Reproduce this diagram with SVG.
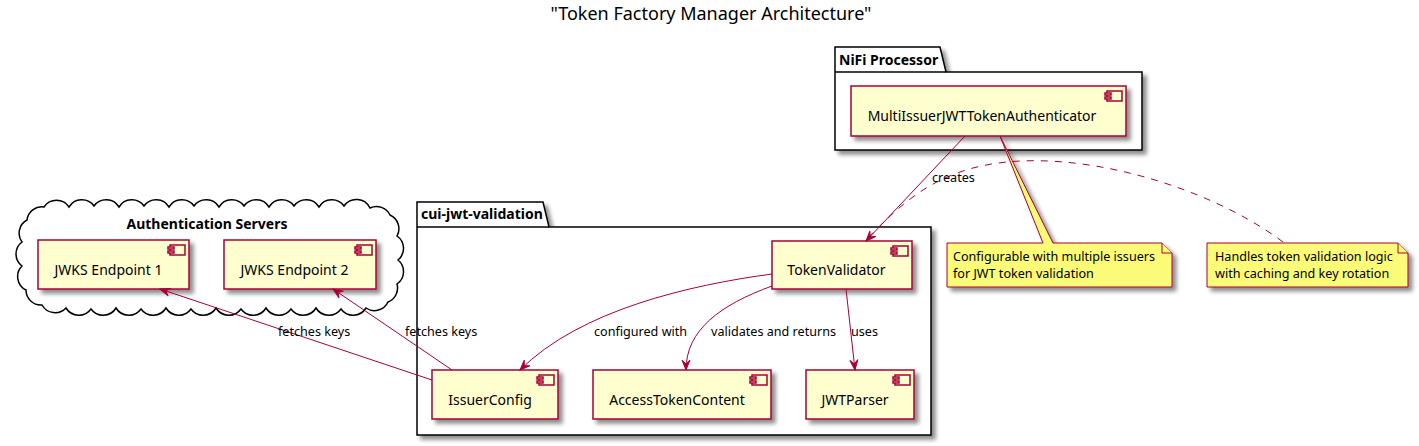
<svg xmlns="http://www.w3.org/2000/svg" width="1419" height="446" viewBox="0 0 1419 446">
<style>
text{font-family:"Noto Sans","Open Sans","DejaVu Sans",sans-serif;fill:#000}
.title{font-size:18px}
.pkgl{font-size:14px;font-weight:bold}
.cname{font-size:14px;text-anchor:middle}
.elab{font-size:12.6px}
.ntext{font-size:12.6px}
.pkg{fill:#fff;stroke:#000;stroke-width:1.5}
.comp{fill:#FEFECE;stroke:#A80036;stroke-width:1.5}
.icon{fill:#FEFECE;stroke:#A80036;stroke-width:1.5}
.note{fill:#FBFB77;stroke:#A80036;stroke-width:1}
.edge{fill:none;stroke:#A80036;stroke-width:1}
.dash{fill:none;stroke:#A80036;stroke-width:1;stroke-dasharray:7,7}
</style>
<defs>
<filter id="sh" x="-10%" y="-10%" width="130%" height="140%">
<feGaussianBlur in="SourceAlpha" stdDeviation="2" result="b"/>
<feOffset in="b" dx="4" dy="4" result="o"/>
<feComponentTransfer in="o" result="o2"><feFuncA type="linear" slope="0.45"/></feComponentTransfer>
<feMerge><feMergeNode in="o2"/><feMergeNode in="SourceGraphic"/></feMerge>
</filter>
<marker id="ah" viewBox="0 0 12 10" refX="11" refY="5" markerWidth="12" markerHeight="10" markerUnits="userSpaceOnUse" orient="auto">
<path d="M11,5 L1,1 L5,5 L1,9 Z" fill="#A80036" stroke="#A80036" stroke-width="1"/>
</marker>
<g id="cicon">
<rect class="icon" x="-19" y="5" width="15" height="10"/>
<rect class="icon" x="-21" y="7" width="6" height="2"/>
<rect class="icon" x="-21" y="11" width="6" height="2"/>
</g>
</defs>

<text class="title" x="711" y="20" text-anchor="middle">"Token Factory Manager Architecture"</text>

<g id="pkg-nifi">
<path class="pkg" filter="url(#sh)" d="M835,47 L940,47 L946,72 L1142,72 L1142,150 L835,150 Z"/>
<line x1="835" y1="72" x2="946" y2="72" stroke="#000" stroke-width="1.5"/>
<text class="pkgl" x="839" y="65">NiFi Processor</text>
</g>

<g id="cloud-auth">
<path fill="#fff" stroke="#000" stroke-width="1.5" d="M44,207 A15,15 0 0 1 69,207 A15,15 0 0 1 94,206 A15,15 0 0 1 119,207 A15,15 0 0 1 144,206 A15,15 0 0 1 169,207 A15,15 0 0 1 194,206 A15,15 0 0 1 219,207 A15,15 0 0 1 244,206 A15,15 0 0 1 269,207 A15,15 0 0 1 294,206 A15,15 0 0 1 319,207 A15,15 0 0 1 344,206 A15,15 0 0 1 370,208 A15,15 0 0 1 390,215 A15,15 0 0 1 397,236 A15,15 0 0 1 398,260 A15,15 0 0 1 397,284 A15,15 0 0 1 388,302 A15,15 0 0 1 366,308 A15,15 0 0 1 341,309 A15,15 0 0 1 316,308 A15,15 0 0 1 291,309 A15,15 0 0 1 266,308 A15,15 0 0 1 241,309 A15,15 0 0 1 216,308 A15,15 0 0 1 191,309 A15,15 0 0 1 166,308 A15,15 0 0 1 141,309 A15,15 0 0 1 116,308 A15,15 0 0 1 91,309 A15,15 0 0 1 66,308 A15,15 0 0 1 42,305 A15,15 0 0 1 26,290 A15,15 0 0 1 22,266 A15,15 0 0 1 22,242 A15,15 0 0 1 27,220 A15,15 0 0 1 44,207 Z"/>
<text class="pkgl" x="207" y="229" text-anchor="middle">Authentication Servers</text>
</g>

<g id="pkg-cui">
<path class="pkg" filter="url(#sh)" d="M417,202 L543,202 L549,227 L931,227 L931,435 L417,435 Z"/>
<line x1="417" y1="227" x2="549" y2="227" stroke="#000" stroke-width="1.5"/>
<text class="pkgl" x="421" y="219">cui-jwt-validation</text>
</g>

<g id="MultiIssuerJWTTokenAuthenticator">
<rect class="comp" filter="url(#sh)" x="851" y="86" width="275" height="50"/>
<use href="#cicon" x="1126" y="86"/>
<text class="cname" x="982" y="121">MultiIssuerJWTTokenAuthenticator</text>
</g>

<g id="JWKSEndpoint1">
<rect class="comp" filter="url(#sh)" x="38" y="240" width="151" height="49"/>
<use href="#cicon" x="189" y="240"/>
<text class="cname" x="108.5" y="275">JWKS Endpoint 1</text>
</g>

<g id="JWKSEndpoint2">
<rect class="comp" filter="url(#sh)" x="224" y="240" width="152" height="49"/>
<use href="#cicon" x="376" y="240"/>
<text class="cname" x="294.5" y="275">JWKS Endpoint 2</text>
</g>

<g id="TokenValidator">
<rect class="comp" filter="url(#sh)" x="772" y="241" width="140" height="48"/>
<use href="#cicon" x="912" y="241"/>
<text class="cname" x="836.5" y="275">TokenValidator</text>
</g>

<g id="IssuerConfig">
<rect class="comp" filter="url(#sh)" x="432" y="370" width="126" height="49"/>
<use href="#cicon" x="558" y="370"/>
<text class="cname" x="490" y="405">IssuerConfig</text>
</g>

<g id="AccessTokenContent">
<rect class="comp" filter="url(#sh)" x="593" y="370" width="178" height="49"/>
<use href="#cicon" x="771" y="370"/>
<text class="cname" x="677" y="405">AccessTokenContent</text>
</g>

<g id="JWTParser">
<rect class="comp" filter="url(#sh)" x="806" y="370" width="108" height="49"/>
<use href="#cicon" x="914" y="370"/>
<text class="cname" x="855" y="405">JWTParser</text>
</g>

<g id="note1">
<path class="note" filter="url(#sh)" d="M947,243 L1043,243 L1000,136 L1053,243 L1162,243 L1172,253 L1172,287 L947,287 Z"/>
<path class="note" d="M1162,243 L1162,253 L1172,253"/>
<text class="ntext" x="953" y="261">Configurable with multiple issuers</text>
<text class="ntext" x="953" y="278">for JWT token validation</text>
</g>

<g id="note2">
<path class="note" filter="url(#sh)" d="M1207,243 L1398,243 L1408,253 L1408,287 L1207,287 Z"/>
<path class="note" d="M1398,243 L1398,253 L1408,253"/>
<text class="ntext" x="1215" y="261">Handles token validation logic</text>
<text class="ntext" x="1215" y="278">with caching and key rotation</text>
</g>

<g id="connectors">
<path class="dash" d="M1283,242 C1200,180 1050,140 960,172 C920,186 895,210 866,240"/>
<path class="edge" marker-end="url(#ah)" d="M965,136 L866,241"/>
<text class="elab" x="932" y="182">creates</text>
<path class="edge" marker-end="url(#ah)" d="M432,380 L160,289"/>
<text class="elab" x="278" y="336">fetches keys</text>
<path class="edge" marker-end="url(#ah)" d="M452,370 L333,289"/>
<text class="elab" x="405" y="336">fetches keys</text>
<path class="edge" marker-end="url(#ah)" d="M772,274 C690,285 580,310 520,370"/>
<text class="elab" x="594" y="336">configured with</text>
<path class="edge" marker-end="url(#ah)" d="M772,286 C720,305 686,330 686,370"/>
<text class="elab" x="711" y="336">validates and returns</text>
<path class="edge" marker-end="url(#ah)" d="M846,289 L855,370"/>
<text class="elab" x="851" y="336">uses</text>
</g>
</svg>
